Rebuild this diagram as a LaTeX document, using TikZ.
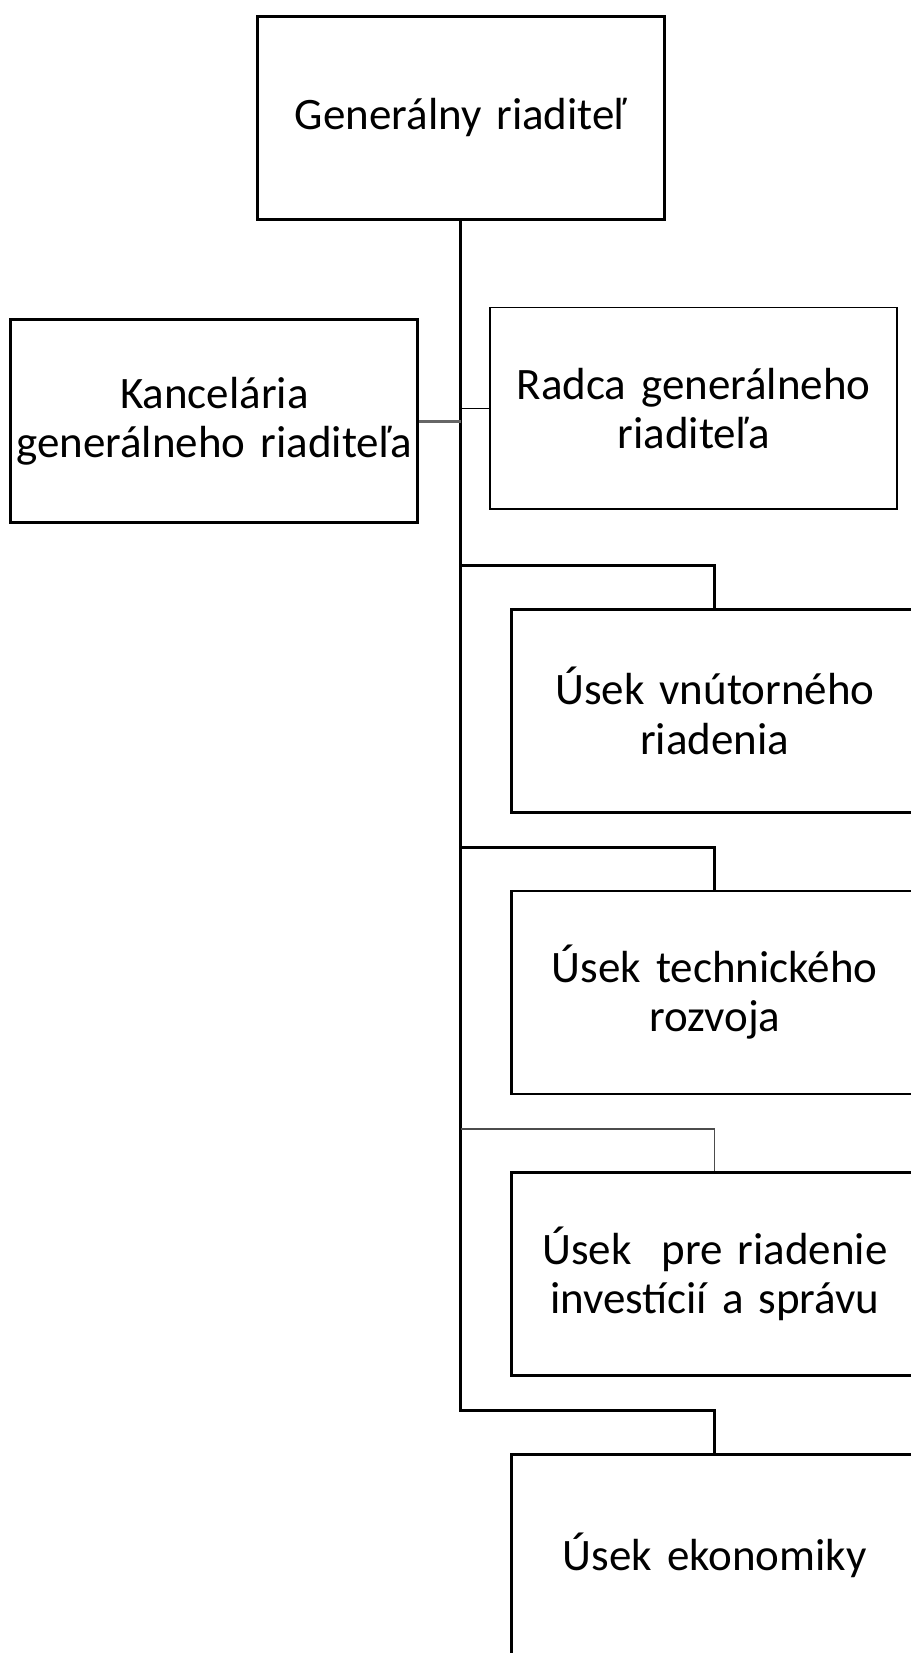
\documentclass[tikz,border=0pt]{standalone}
\usepackage{fontspec}
\setmainfont{Carlito}
\usetikzlibrary{positioning}

\begin{document}
\begin{tikzpicture}[
					node distance=7.04cm,
					unit/.style={draw, line width=2pt, minimum width=10.175cm, minimum height=5.075cm,
						text width=10cm, inner sep=0.05cm, align=center,
						font=\fontsize{32}{35}\selectfont},
					thinunit/.style={unit, line width=0.9pt, minimum height=5.03cm},
					link/.style={line width=2pt},
					thinlink/.style={line width=0.9pt}
					]
					\clip (0,0) rectangle (22.775,-41.325);
					% Nodes
					\node [unit] (Generalny) at (11.52,-2.94) {Generálny riaditeľ};
					\node [unit] (Kancelaria) at (5.36,-10.53) {Kancelária\\generálneho riaditeľa};
					\node [thinunit] (Radca) at (17.34,-10.21) {Radca generálneho\\riaditeľa};
					
					% Sections
					\node [unit] (Vnutorne) at (17.87,-17.77) {Úsek vnútorného\\riadenia};
					\node [unit, below of=Vnutorne] (Technicky) {Úsek technického\\rozvoja};
					\node [unit, below of=Technicky] (Investicie) {Úsek\ \ pre riadenie\\investícií a správu};
					\node [unit, below of=Investicie] (Ekonomika) {Úsek ekonomiky};
					
					% Edges
					\draw [link] (Generalny.south) |- ([yshift=1.05cm]Ekonomika.north) -- (Ekonomika.north);
					\draw [link] (Generalny.south) |- ([yshift=1.05cm]Vnutorne.north) -- (Vnutorne.north);
					\draw [link] (Generalny.south) |- ([yshift=1.05cm]Technicky.north) -- (Technicky.north);
					\draw [thinlink, black!70] ([yshift=1.05cm]Investicie.north -| Generalny.south) -| (Investicie.north);
					\draw [link, black!60] (Kancelaria.east) -- (Kancelaria.east -| Generalny.south);
					\draw [thinlink] (Radca.west) -- (Radca.west -| Generalny.south);
				\end{tikzpicture}
\end{document}
